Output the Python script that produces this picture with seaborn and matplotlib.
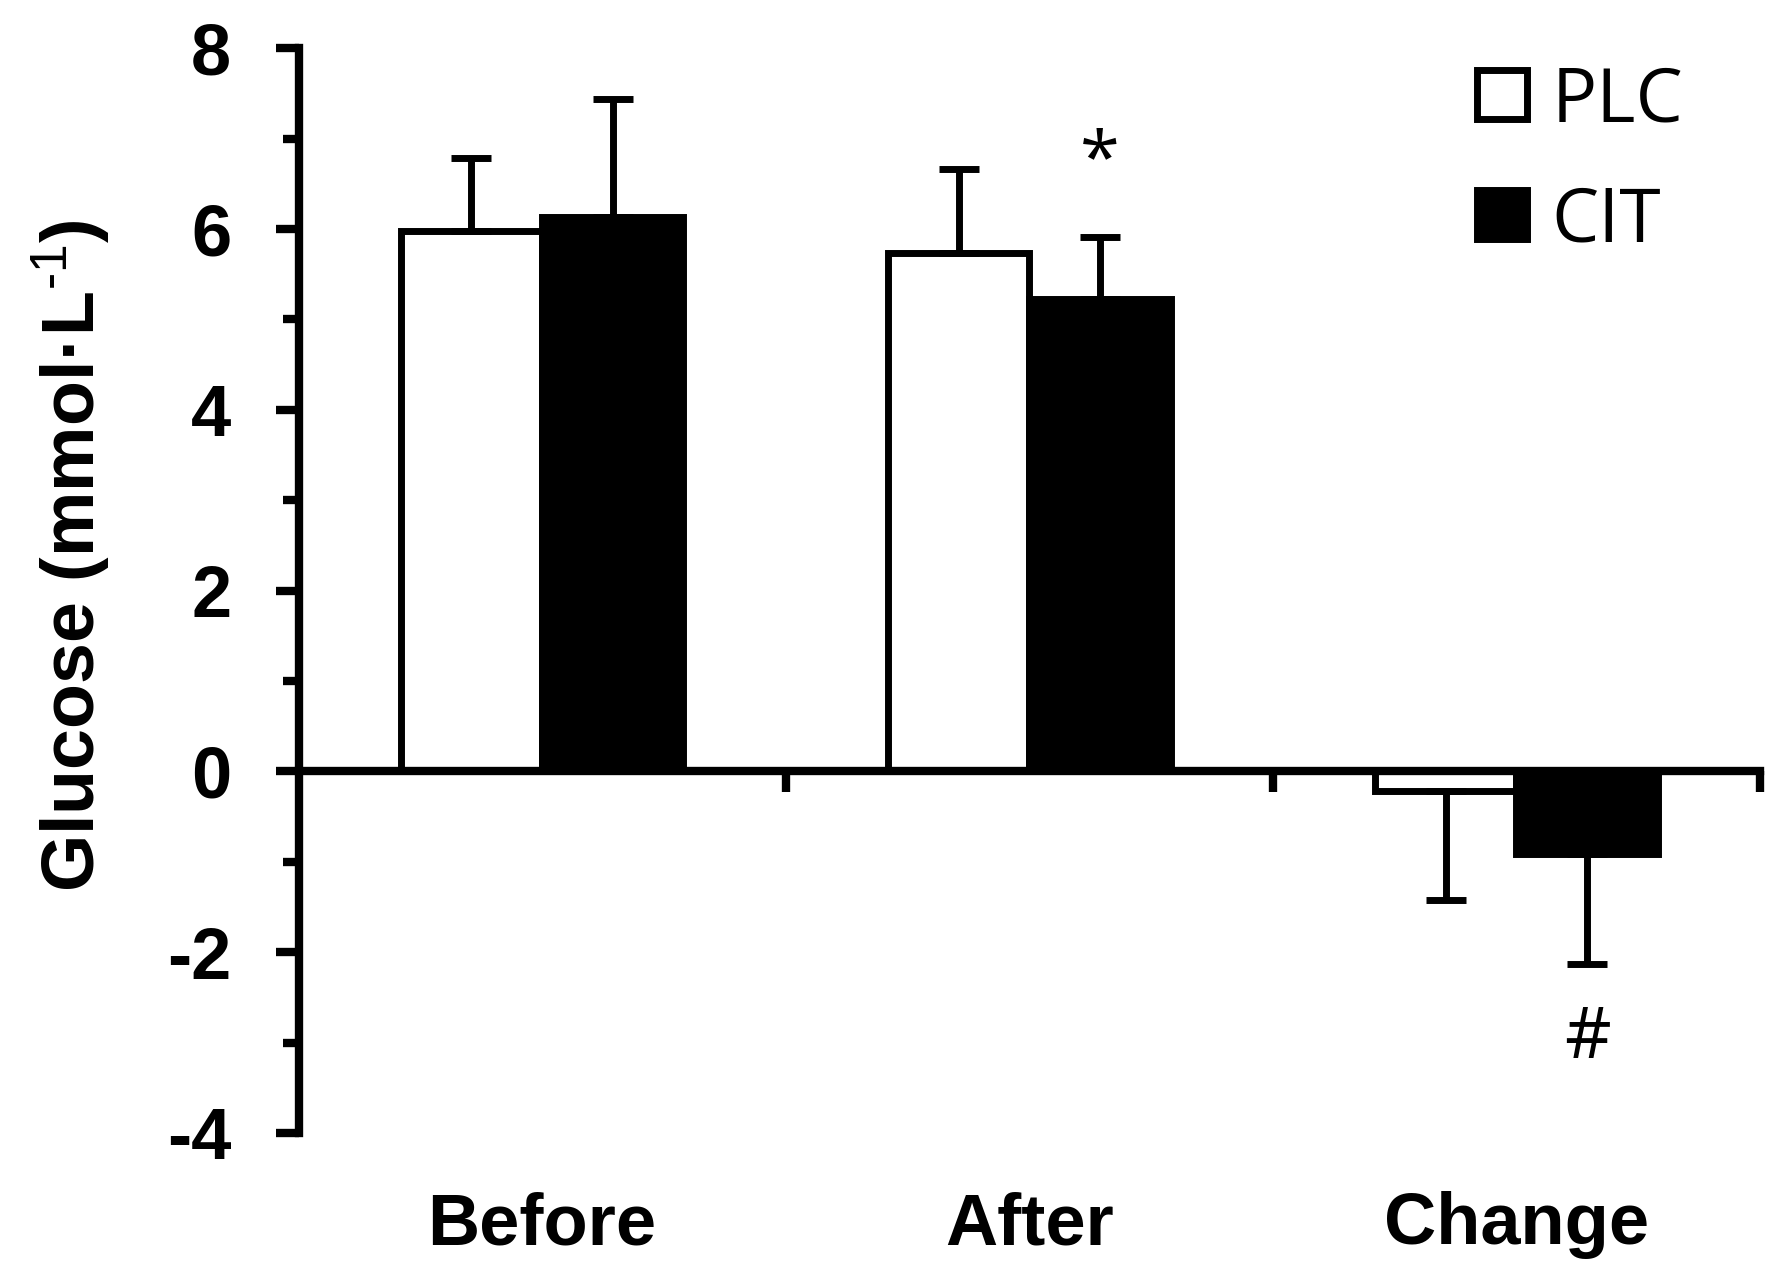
import matplotlib
matplotlib.use('Agg')
import matplotlib.pyplot as plt
from matplotlib.ticker import MultipleLocator
import seaborn as sns
import pandas as pd

# ---- data ----
categories = ['Before', 'After', 'Change']
groups = ['PLC', 'CIT']
plc_mean = [5.98, 5.74, -0.22]
plc_err = [0.81, 0.93, 1.20]
cit_mean = [6.13, 5.23, -0.91]
cit_err = [1.31, 0.68, 1.22]
plc_marks = ['', '', '']
cit_marks = ['', '*', '#']
y_ticks = [-4, -2, 0, 2, 4, 6, 8]
y_label = r'Glucose (mmol·L$^{\text{-}1}$)'

sns.set_theme(style='ticks')
plt.rcParams['font.family'] = ['Liberation Sans', 'DejaVu Sans']
plt.rcParams['text.color'] = 'black'
plt.rcParams['axes.labelcolor'] = 'black'
plt.rcParams['axes.unicode_minus'] = False
plt.rcParams['mathtext.fontset'] = 'custom'
plt.rcParams['mathtext.rm'] = 'Liberation Sans'
plt.rcParams['mathtext.default'] = 'rm'

df = pd.DataFrame({
    'cat': categories * 2,
    'grp': [groups[0]] * 3 + [groups[1]] * 3,
    'val': plc_mean + cit_mean,
})

fig = plt.figure(figsize=(17.9, 12.79), dpi=100)
ax = fig.add_axes([0.1668, 0.1142, 0.8164, 0.848])

LW = 5
sns.barplot(data=df, x='cat', y='val', hue='grp', order=categories,
            hue_order=groups, palette={'PLC': 'white', 'CIT': 'black'},
            saturation=1, edgecolor='black', linewidth=LW, width=0.58,
            errorbar=None, legend=False, ax=ax)
bar_containers = list(ax.containers)

errs = {'PLC': plc_err, 'CIT': cit_err}
marks = {'PLC': plc_marks, 'CIT': cit_marks}
for grp, cont in zip(groups, bar_containers):
    for bar, e, mk in zip(cont.patches, errs[grp], marks[grp]):
        x = bar.get_x() + bar.get_width() / 2
        h = bar.get_height()
        yerr = [[0], [e]] if h >= 0 else [[e], [0]]
        ax.errorbar([x], [h], yerr=yerr, fmt='none', ecolor='black',
                    elinewidth=LW, capsize=14.4, capthick=LW, zorder=1.5)
        if mk:
            if h >= 0:
                ax.annotate(mk, xy=(x, h + e), xytext=(0, 40),
                            textcoords='offset points', ha='center',
                            va='baseline', fontsize=52, family='Open Sans',
                            color='black')
            else:
                ax.annotate(mk, xy=(x, h - e), xytext=(0, -68),
                            textcoords='offset points', ha='center',
                            va='baseline', fontsize=52, family='Open Sans',
                            color='black')

ax.set_xlim(-0.5, 2.5)
ax.set_ylim(-4, 8)
for s in ['top', 'right']:
    ax.spines[s].set_visible(False)
for s in ['left', 'bottom']:
    ax.spines[s].set_linewidth(6)
    ax.spines[s].set_color('black')
ax.spines['bottom'].set_position(('data', 0))

ax.set_yticks(y_ticks)
ax.yaxis.set_minor_locator(MultipleLocator(1))
ax.tick_params(axis='y', which='major', length=16.5, width=6, pad=32,
               labelsize=52, color='black', labelcolor='black')
ax.tick_params(axis='y', which='minor', length=11.7, width=6, color='black')
for lab in ax.get_yticklabels():
    lab.set_fontweight('bold')

ax.set_xticks([0.5, 1.5, 2.5])
ax.tick_params(axis='x', which='major', length=15, width=6, direction='out',
               labelbottom=False, color='black')
ax.set_xlabel('')

sec = ax.secondary_xaxis('bottom')
sec.set_xticks(range(len(categories)), labels=categories)
sec.tick_params(length=0, pad=42, labelsize=52, labelcolor='black')
sec.spines['bottom'].set_visible(False)
for lab in sec.get_xticklabels():
    lab.set_fontweight('bold')

ax.set_ylabel(y_label, fontsize=53, fontweight='bold', color='black')
ax.yaxis.set_label_coords(-0.128, 0.532)

handles = [cont.patches[0] for cont in bar_containers]
ax.legend(handles, groups, loc='upper left',
          bbox_to_anchor=(1477 / 1790, 1 - 64 / 1279),
          bbox_transform=fig.transFigure, frameon=False,
          prop={'family': 'Open Sans', 'size': 54}, labelcolor='black',
          handlelength=0.66, handleheight=0.64, handletextpad=0.33,
          labelspacing=0.6, borderpad=0, borderaxespad=0)

fig.savefig('out.png', dpi=100, facecolor='white')
